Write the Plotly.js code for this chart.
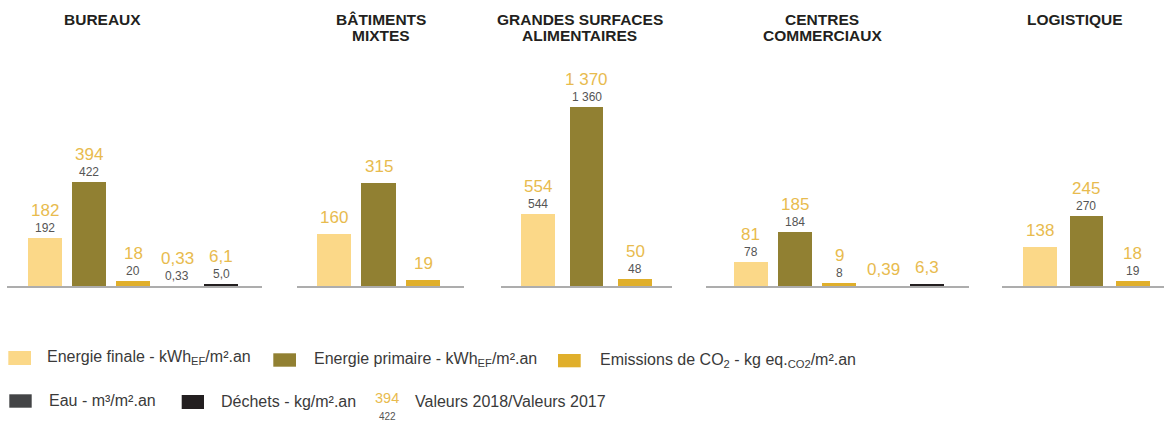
<!DOCTYPE html>
<html><head><meta charset="utf-8">
<script src="https://cdn.plot.ly/plotly-3.0.1.min.js"></script>
<style>html,body{margin:0;padding:0;background:#fff}#chart{width:1164px;height:421px}</style>
</head><body><div id="chart"></div>
<script>
// ---------- DATA ----------
const categories = ['Energie finale', 'Energie primaire', 'Emissions de CO2', 'Eau', 'Déchets'];
const categoryDecimals = [0, 0, 0, 2, 1];
const panelTitles = ['BUREAUX', 'BÂTIMENTS<br>MIXTES', 'GRANDES SURFACES<br>ALIMENTAIRES', 'CENTRES<br>COMMERCIAUX', 'LOGISTIQUE'];

const bureaux2018 = [182, 394, 18, 0.33, 6.1];
const bureaux2017 = [192, 422, 20, 0.33, 5.0];
const mixtes2018 = [160, 315, 19];
const mixtes2017 = [null, null, null];
const gsa2018 = [554, 1370, 50];
const gsa2017 = [544, 1360, 48];
const cc2018 = [81, 185, 9, 0.39, 6.3];
const cc2017 = [78, 184, 8, null, null];
const logistique2018 = [138, 245, 18];
const logistique2017 = [null, 270, 19];

const legendLabels = [
  'Energie finale - kWh<sub>EF</sub>/m².an',
  'Energie primaire - kWh<sub>EF</sub>/m².an',
  'Emissions de CO<sub>2</sub> - kg eq.<sub>CO2</sub>/m².an',
  'Eau - m³/m².an',
  'Déchets - kg/m².an'
];
const legendNote = 'Valeurs 2018/Valeurs 2017';

// ---------- STYLE ----------
const W = 1164, H = 421;
const colors = ['#FBD888', '#918032', '#E0AF2B', '#434446', '#231F20'];
const gold = '#E8BB4E', grey2017 = '#555555', titleColor = '#231F20', textColor = '#3a3a3a';
const FONT = 'Liberation Sans, Arial, sans-serif';

const panels2018 = [bureaux2018, mixtes2018, gsa2018, cc2018, logistique2018];
const panels2017 = [bureaux2017, mixtes2017, gsa2017, cc2017, logistique2017];
const domainPx = [[7, 262], [297, 464], [501, 672], [706, 969], [1002, 1164]];
const xRanges = [[-0.864, 4.93], [-0.83, 2.92], [-0.763, 2.763], [-1.02, 4.95], [-0.817, 2.667]];
const barWidths = [0.77, 0.764, 0.70, 0.77, 0.73];
const yMax = [856, 692, 1731, 772, 792];
const titleXpx = [102.7, 380.5, 579.5, 822, 1074.7];
const titleYpx = [19.5, 35];
const baseYpx = 286, topYpx = 60;

function fmt(v, d) {
  let s = v.toFixed(d);
  let [ip, dp] = s.split('.');
  ip = ip.replace(/\B(?=(\d{3})+(?!\d))/g, '\u00A0');
  return dp !== undefined ? ip + ',' + dp : ip;
}
const px = x => x / W;
const py = y => 1 - y / H;

const data = [];
const layout = {
  width: W, height: H,
  margin: {l: 0, r: 0, t: 0, b: 0},
  paper_bgcolor: '#fff', plot_bgcolor: 'rgba(0,0,0,0)',
  showlegend: false,
  font: {family: FONT},
  annotations: [], shapes: [],
  bargap: 0
};

panels2018.forEach((vals, i) => {
  const xa = i === 0 ? 'x' : 'x' + (i + 1);
  const ya = i === 0 ? 'y' : 'y' + (i + 1);
  const cats = categories.slice(0, vals.length);
  data.push({
    type: 'bar', x: cats, y: vals, xaxis: xa, yaxis: ya,
    width: barWidths[i],
    marker: {color: colors.slice(0, vals.length), line: {width: 0}},
    hoverinfo: 'x+y'
  });
  const xk = i === 0 ? 'xaxis' : 'xaxis' + (i + 1);
  const yk = i === 0 ? 'yaxis' : 'yaxis' + (i + 1);
  layout[xk] = {
    domain: [px(domainPx[i][0]), px(domainPx[i][1])], anchor: ya,
    range: xRanges[i], type: 'category',
    showline: true, linecolor: '#ADADAD', linewidth: 2,
    showticklabels: false, ticks: '', showgrid: false, zeroline: false, fixedrange: true
  };
  layout[yk] = {
    domain: [py(baseYpx), py(topYpx)], anchor: xa,
    range: [0, yMax[i]], visible: false, showgrid: false, zeroline: false, fixedrange: true
  };
  const v17 = panels2017[i];
  vals.forEach((v, j) => {
    const has17 = v17[j] !== null && v17[j] !== undefined;
    if (has17) {
      layout.annotations.push({
        xref: xa, yref: ya, x: cats[j], y: v, xanchor: 'center', yanchor: 'bottom',
        yshift: 1, showarrow: false, text: fmt(v17[j], categoryDecimals[j]),
        font: {size: 12, color: grey2017, family: FONT}
      });
    }
    layout.annotations.push({
      xref: xa, yref: ya, x: cats[j], y: v, xanchor: 'center', yanchor: 'bottom',
      yshift: has17 ? 16 : 5, showarrow: false, text: fmt(v, categoryDecimals[j]),
      font: {size: 17, color: gold, family: FONT}
    });
  });
  panelTitles[i].split('<br>').forEach((line, k) => {
    layout.annotations.push({
      xref: 'paper', yref: 'paper', x: px(titleXpx[i]), y: py(titleYpx[k]),
      xanchor: 'center', yanchor: 'middle', showarrow: false,
      text: '<b>' + line + '</b>', font: {size: 15.5, color: titleColor, family: FONT}
    });
  });
});

// ---------- LEGEND ----------
const swatchPx = [[8.3, 351, 31, 365], [273.3, 353.3, 296, 366.7], [558, 354, 580.7, 367.3],
                  [9.3, 394.3, 31.7, 407.7], [181.7, 395, 204, 409]];
const legendTextX = [45, 312.3, 598.3, 46.7, 219];
legendLabels.forEach((lab, i) => {
  const s = swatchPx[i];
  layout.shapes.push({type: 'rect', xref: 'paper', yref: 'paper',
    x0: px(s[0]), x1: px(s[2]), y0: py(s[1]), y1: py(s[3]),
    fillcolor: colors[i], line: {width: 0}});
  layout.annotations.push({xref: 'paper', yref: 'paper', x: px(legendTextX[i]), y: py((s[1] + s[3]) / 2 - 0.5),
    xanchor: 'left', yanchor: 'middle', showarrow: false, text: lab,
    font: {size: 16, color: textColor, family: FONT}});
});
layout.annotations.push({xref: 'paper', yref: 'paper', x: px(387), y: py(398.3), xanchor: 'center', yanchor: 'middle',
  showarrow: false, text: fmt(bureaux2018[1], 0), font: {size: 14.5, color: gold, family: FONT}});
layout.annotations.push({xref: 'paper', yref: 'paper', x: px(387.7), y: py(416.2), xanchor: 'center', yanchor: 'middle',
  showarrow: false, text: fmt(bureaux2017[1], 0), font: {size: 10, color: grey2017, family: FONT}});
layout.annotations.push({xref: 'paper', yref: 'paper', x: px(413.3), y: py(401.7), xanchor: 'left', yanchor: 'middle',
  showarrow: false, text: legendNote, font: {size: 16, color: textColor, family: FONT}});

Plotly.newPlot('chart', data, layout, {staticPlot: true, displayModeBar: false});
</script></body></html>
